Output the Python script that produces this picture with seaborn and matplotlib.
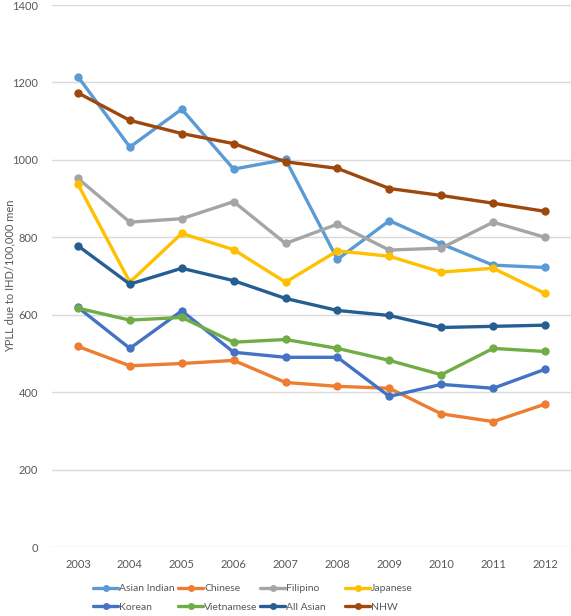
import numpy as np
import pandas as pd
import matplotlib
matplotlib.use("Agg")
import matplotlib.pyplot as plt
import seaborn as sns
from matplotlib.lines import Line2D

years = [2003, 2004, 2005, 2006, 2007, 2008, 2009, 2010, 2011, 2012]
asian_indian = [1215, 1033, 1131, 976, 1001, 743, 843, 783, 728, 722]
chinese = [518, 468, 474, 482, 425, 415, 410, 344, 324, 369]
filipino = [952, 839, 848, 892, 784, 834, 767, 772, 839, 800]
japanese = [937, 684, 810, 768, 684, 765, 751, 710, 720, 655]
korean = [619, 513, 610, 503, 490, 490, 389, 420, 410, 459]
vietnamese = [617, 586, 593, 529, 536, 513, 482, 445, 513, 505]
all_asian = [778, 679, 720, 688, 642, 611, 598, 567, 570, 573]
nhw = [1173, 1102, 1068, 1042, 995, 978, 926, 908, 888, 867]

groups = ["Asian Indian", "Chinese", "Filipino", "Japanese",
          "Korean", "Vietnamese", "All Asian", "NHW"]
series = [asian_indian, chinese, filipino, japanese, korean, vietnamese, all_asian, nhw]
colors = ["#5B9BD5", "#ED7D31", "#A5A5A5", "#FFC000",
          "#4472C4", "#70AD47", "#255E91", "#9E480E"]
palette = dict(zip(groups, colors))

df = pd.DataFrame({
    "year": np.tile(years, len(groups)),
    "value": np.concatenate(series),
    "group": np.repeat(groups, len(years)),
})

sns.set_style("white")
plt.rcParams["font.family"] = ["Lato", "DejaVu Sans"]

fig = plt.figure(figsize=(5.71, 6.16), dpi=100)
ax = fig.add_axes([52 / 571, 1 - 547 / 616, 519 / 571, 542 / 616])

sns.lineplot(data=df, x="year", y="value", hue="group", hue_order=groups,
             palette=palette, marker="o", markersize=6, markeredgewidth=0,
             linewidth=2.4, legend=False, ax=ax)

ax.set_xlim(2002.5, 2012.5)
ax.set_ylim(0, 1400)
ax.set_yticks(range(0, 1401, 200))
ax.set_xticks(years)
ax.set_xticklabels([str(y) for y in years])
ax.grid(axis="y", color="#D9D9D9", linewidth=1)
ax.set_axisbelow(True)
for s in ax.spines.values():
    s.set_visible(False)
ax.tick_params(axis="both", length=0, labelsize=8, labelcolor="#595959")
ax.tick_params(axis="x", pad=9)
ax.tick_params(axis="y", pad=10)
ax.set_xlabel("")
ax.set_ylabel("YPLL due to IHD/100,000 men", fontsize=8, color="#595959")
ax.yaxis.set_label_coords((15 - 52) / 519, 0.5)

# legend, 4 columns x 2 rows laid out row-wise
col_x = [93, 178, 260, 345]
for c in range(4):
    hs = []
    for r in range(2):
        g = groups[r * 4 + c]
        hs.append(Line2D([0], [0], color=palette[g], lw=2.4, marker="o",
                         markersize=5, markeredgewidth=0, label=g))
    fig.legend(handles=hs, loc="upper left",
               bbox_to_anchor=(col_x[c] / 571, 1 - 584 / 616),
               frameon=False, fontsize=7.5, labelcolor="#595959",
               handlelength=2.4, handletextpad=0.1, labelspacing=0.9,
               borderpad=0, borderaxespad=0)

fig.savefig("out.png", dpi=100)
